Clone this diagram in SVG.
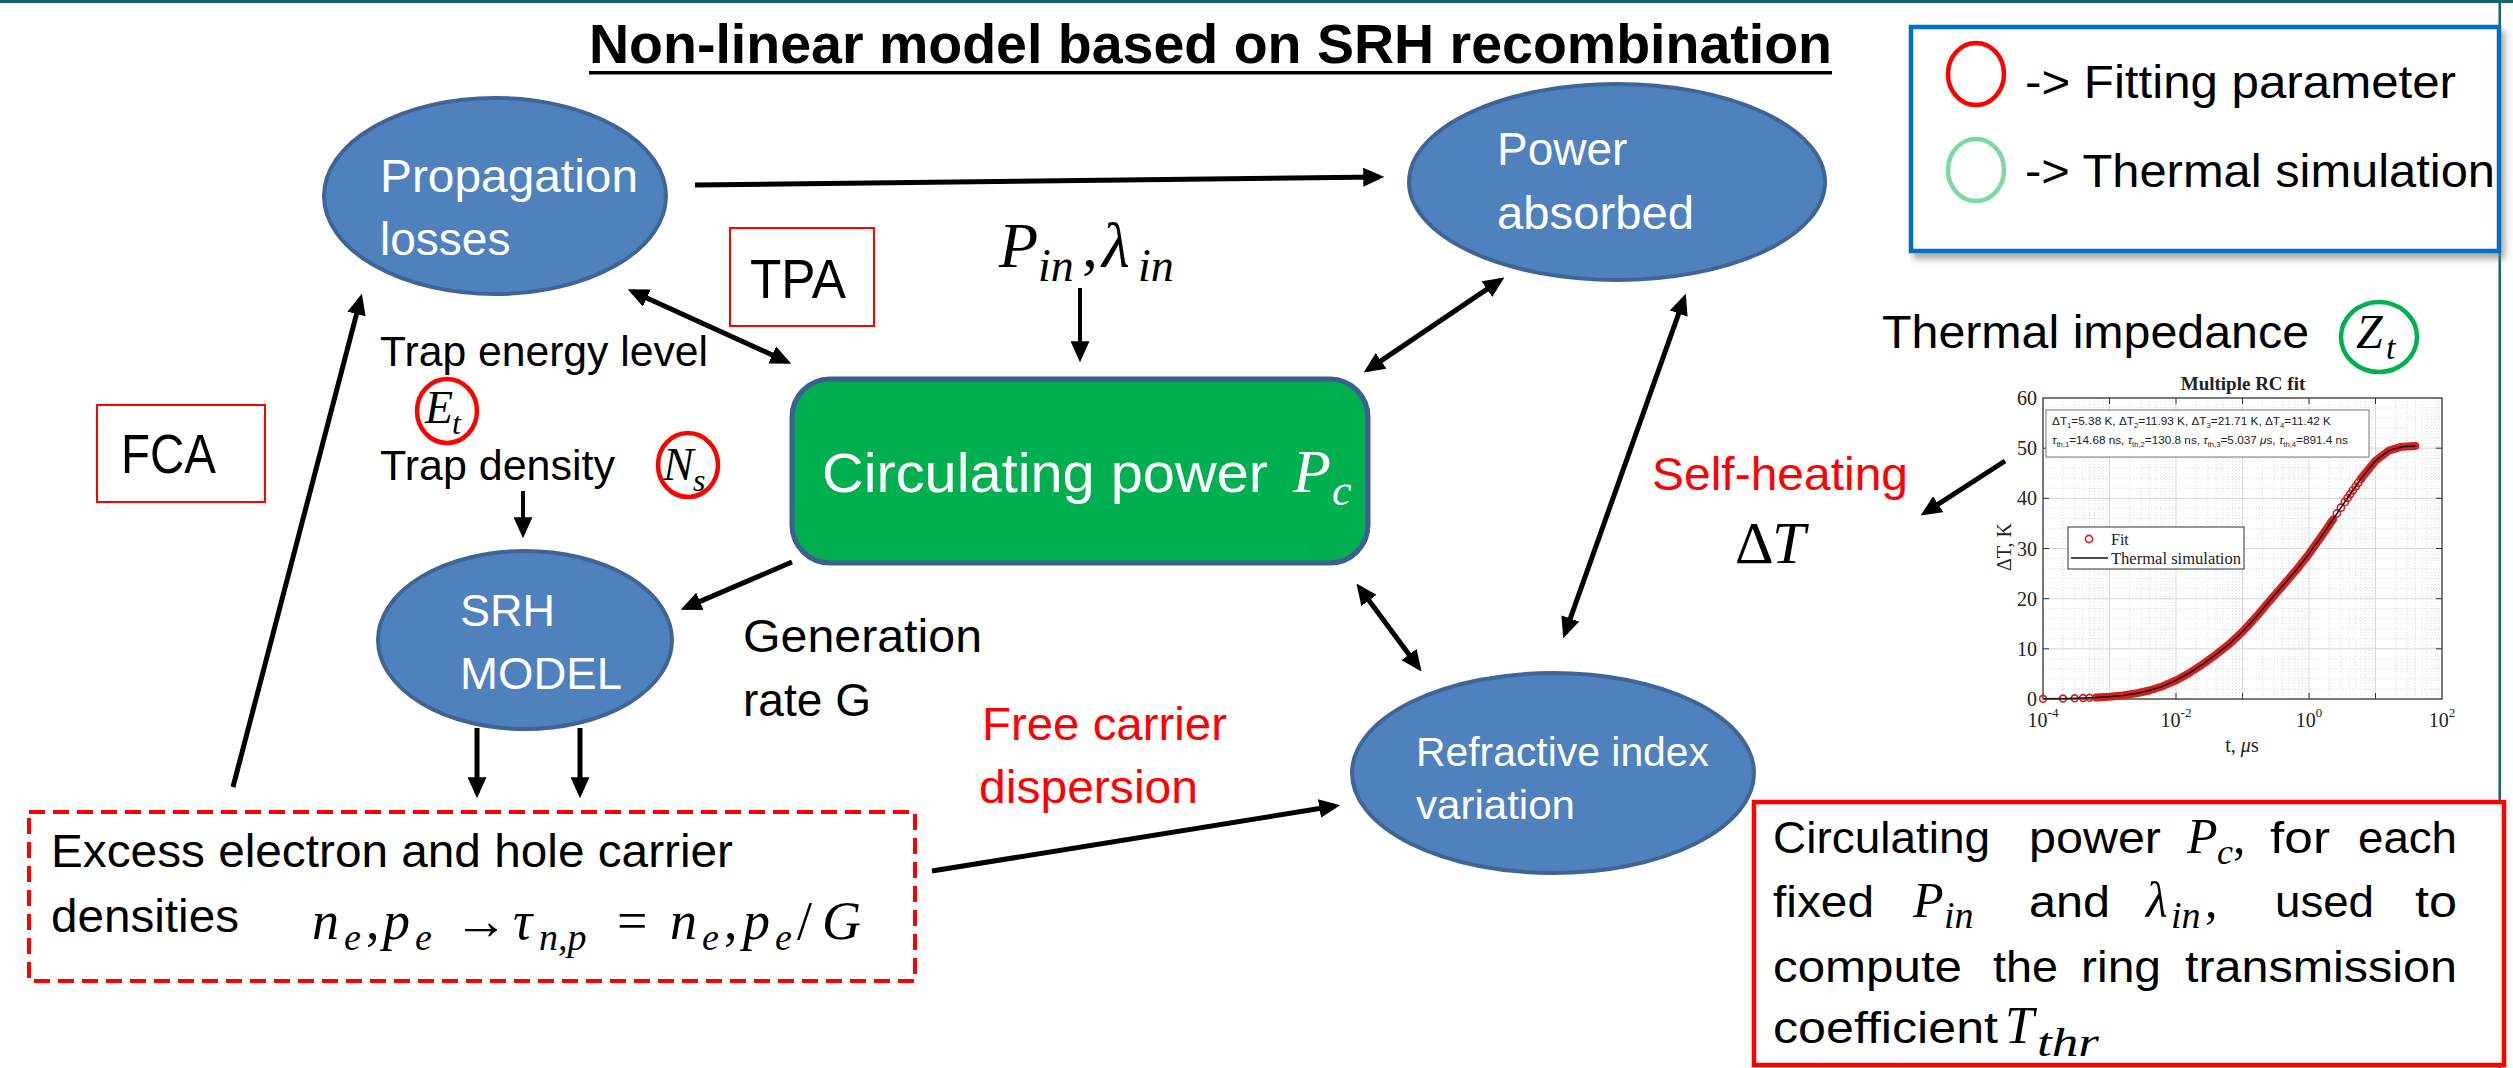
<svg xmlns="http://www.w3.org/2000/svg" width="2513" height="1068" viewBox="0 0 2513 1068">
<defs>
<style>
.sans{font-family:"Liberation Sans",Arial,sans-serif}
.mi{font-family:"Liberation Serif","DejaVu Serif",serif;font-style:italic}
.ms{font-family:"Liberation Serif","DejaVu Serif",serif}
.w{fill:#fff}
.k{fill:#000}
.red{fill:#ff0000}
.node{fill:#4f81bd;stroke:#3e6595;stroke-width:4}
.conn{stroke:#000;stroke-width:5;fill:none}
.thin{stroke-width:4}
.fp{fill:none;stroke:#ff0000;stroke-width:4.5}
.chart text{font-family:"Liberation Serif","DejaVu Serif",serif;fill:#222}
.mk{fill:none;stroke:#d42020;stroke-width:1.6}
</style>
<marker id="arr" viewBox="0 0 20 18" refX="15" refY="9" markerWidth="21" markerHeight="19" markerUnits="userSpaceOnUse" orient="auto-start-reverse">
<path d="M0,0 L20,9 L0,18 z" fill="#000"/>
</marker>
<filter id="shadow" x="-5%" y="-5%" width="115%" height="120%">
<feDropShadow dx="4" dy="6" stdDeviation="3" flood-color="#777" flood-opacity="0.6"/>
</filter>
</defs>
<rect x="0" y="0" width="2513" height="1068" fill="#fff"/>
<!-- slide border lines -->
<rect x="0" y="0" width="2513" height="3" fill="#16636f"/>
<rect x="2498.5" y="0" width="2.5" height="1068" fill="#16636f"/>

<!-- title -->
<g id="title">
<text class="sans" x="589" y="63" font-size="55" font-weight="bold" textLength="1243" lengthAdjust="spacingAndGlyphs">Non-linear model based on SRH recombination</text>
<rect x="589" y="71" width="1243" height="3.5" fill="#000"/>
</g>

<!-- legend -->
<g id="legend">
<rect x="1911" y="27" width="588" height="224" fill="#fff" stroke="#0070c0" stroke-width="4.5" filter="url(#shadow)"/>
<ellipse cx="1976" cy="74" rx="28" ry="31" fill="none" stroke="#ff0000" stroke-width="4.5"/>
<text class="sans k" x="2025" y="98" font-size="46" textLength="431" lengthAdjust="spacingAndGlyphs">-&gt; Fitting parameter</text>
<ellipse cx="1976" cy="170" rx="28" ry="31" fill="none" stroke="#7fd8a4" stroke-width="4.5"/>
<text class="sans k" x="2025" y="187" font-size="46" textLength="470" lengthAdjust="spacingAndGlyphs">-&gt; Thermal simulation</text>
</g>

<!-- nodes -->
<g id="propagation-losses">
<ellipse class="node" cx="495" cy="196" rx="171" ry="98"/>
<text class="sans w" x="380" y="192" font-size="46" textLength="258" lengthAdjust="spacingAndGlyphs">Propagation</text>
<text class="sans w" x="380" y="255" font-size="46">losses</text>
</g>

<g id="power-absorbed">
<ellipse class="node" cx="1617" cy="182" rx="208" ry="98"/>
<text class="sans w" x="1497" y="165" font-size="46">Power</text>
<text class="sans w" x="1497" y="229" font-size="46" textLength="197" lengthAdjust="spacingAndGlyphs">absorbed</text>
</g>

<g id="tpa">
<rect x="730" y="228" width="144" height="98" fill="#fff" stroke="#ff0000" stroke-width="2"/>
<text class="sans k" x="750" y="298" font-size="56" textLength="96" lengthAdjust="spacingAndGlyphs">TPA</text>
</g>

<g id="fca">
<rect x="97" y="405" width="168" height="97" fill="#fff" stroke="#ff0000" stroke-width="2"/>
<text class="sans k" x="121" y="473" font-size="56" textLength="95" lengthAdjust="spacingAndGlyphs">FCA</text>
</g>

<g id="input">
<text class="mi k" font-size="64"><tspan x="999" y="267">P</tspan><tspan x="1038" y="281" font-size="46">in</tspan><tspan x="1082" y="267" font-style="normal">,</tspan><tspan x="1102" y="267">λ</tspan><tspan x="1138" y="281" font-size="46">in</tspan></text>
</g>

<g id="circulating-power">
<rect x="792" y="379" width="576" height="184" rx="38" ry="38" fill="#00b050" stroke="#3b5f8f" stroke-width="5"/>
<text class="sans w" x="822" y="492" font-size="56" textLength="446" lengthAdjust="spacingAndGlyphs">Circulating power</text>
<text class="mi w" font-size="62"><tspan x="1293" y="492">P</tspan><tspan x="1332" y="505" font-size="44">c</tspan></text>
</g>

<g id="trap-params">
<text class="sans k" x="380" y="366" font-size="42" textLength="328" lengthAdjust="spacingAndGlyphs">Trap energy level</text>
<ellipse cx="447" cy="411" rx="30" ry="32" class="fp"/>
<text class="mi k" font-size="46"><tspan x="425" y="423">E</tspan><tspan x="452" y="434" font-size="32">t</tspan></text>
<text class="sans k" x="380" y="480" font-size="42" textLength="235" lengthAdjust="spacingAndGlyphs">Trap density</text>
<ellipse cx="688" cy="465" rx="30" ry="32" class="fp"/>
<text class="mi k" font-size="46"><tspan x="663" y="480">N</tspan><tspan x="693" y="491" font-size="32">s</tspan></text>
</g>

<g id="srh-model">
<ellipse class="node" cx="525" cy="640" rx="147" ry="89"/>
<text class="sans w" x="460" y="626" font-size="45">SRH</text>
<text class="sans w" x="460" y="689" font-size="45" textLength="162" lengthAdjust="spacingAndGlyphs">MODEL</text>
</g>

<g id="generation-label">
<text class="sans k" x="743" y="652" font-size="47" textLength="239" lengthAdjust="spacingAndGlyphs">Generation</text>
<text class="sans k" x="743" y="716" font-size="47" textLength="128" lengthAdjust="spacingAndGlyphs">rate G</text>
</g>

<g id="carrier-densities">
<rect x="29" y="812" width="886" height="169" fill="#fff" stroke="#ff0000" stroke-width="4" stroke-dasharray="16 8"/>
<text class="sans k" x="51" y="867" font-size="46" textLength="682" lengthAdjust="spacingAndGlyphs">Excess electron and hole carrier</text>
<text class="sans k" x="51" y="932" font-size="46" textLength="188" lengthAdjust="spacingAndGlyphs">densities</text>
<text class="mi k" font-size="54"><tspan x="312" y="939">n</tspan><tspan x="344" y="950" font-size="38">e</tspan><tspan x="366" y="939" font-style="normal">,</tspan><tspan x="383" y="939">p</tspan><tspan x="415" y="950" font-size="38">e</tspan><tspan x="454" y="939" font-style="normal">→</tspan><tspan x="513" y="939">τ</tspan><tspan x="539" y="950" font-size="38">n,p</tspan><tspan x="617" y="939" font-style="normal">=</tspan><tspan x="670" y="939">n</tspan><tspan x="702" y="950" font-size="38">e</tspan><tspan x="724" y="939" font-style="normal">,</tspan><tspan x="743" y="939">p</tspan><tspan x="775" y="950" font-size="38">e</tspan><tspan x="797" y="939" font-style="normal">/</tspan><tspan x="822" y="939">G</tspan></text>
</g>

<g id="free-carrier-label">
<text class="sans red" x="982" y="740" font-size="47" textLength="245" lengthAdjust="spacingAndGlyphs">Free carrier</text>
<text class="sans red" x="979" y="803" font-size="47" textLength="219" lengthAdjust="spacingAndGlyphs">dispersion</text>
</g>

<g id="refractive-index">
<ellipse class="node" cx="1553" cy="773" rx="201" ry="100"/>
<text class="sans w" x="1416" y="766" font-size="41" textLength="293" lengthAdjust="spacingAndGlyphs">Refractive index</text>
<text class="sans w" x="1416" y="819" font-size="41" textLength="159" lengthAdjust="spacingAndGlyphs">variation</text>
</g>

<g id="self-heating">
<text class="sans red" x="1652" y="490" font-size="47" textLength="256" lengthAdjust="spacingAndGlyphs">Self-heating</text>
<text class="ms k" font-size="60"><tspan x="1735" y="563">Δ</tspan><tspan x="1772" y="563" font-style="italic">T</tspan></text>
</g>

<g id="thermal-impedance">
<text class="sans k" x="1882" y="348" font-size="47" textLength="427" lengthAdjust="spacingAndGlyphs">Thermal impedance</text>
<ellipse cx="2379" cy="337" rx="38" ry="35" fill="none" stroke="#00b050" stroke-width="4.5"/>
<text class="mi k" font-size="48"><tspan x="2356" y="348">Z</tspan><tspan x="2386" y="359" font-size="34">t</tspan></text>
</g>

<g id="chart" class="chart">
<text x="2243" y="390" font-size="19" font-weight="bold" text-anchor="middle">Multiple RC fit</text>
<rect x="2043" y="398" width="399" height="301" fill="#fff"/>
<path d="M2063 398V699M2074.7 398V699M2083 398V699M2089.5 398V699M2094.7 398V699M2099.2 398V699M2103 398V699M2106.4 398V699M2129.5 398V699M2141.2 398V699M2149.5 398V699M2156 398V699M2161.2 398V699M2165.7 398V699M2169.5 398V699M2172.9 398V699M2196 398V699M2207.7 398V699M2216 398V699M2222.5 398V699M2227.7 398V699M2232.2 398V699M2236 398V699M2239.4 398V699M2262.5 398V699M2274.2 398V699M2282.5 398V699M2289 398V699M2294.2 398V699M2298.7 398V699M2302.5 398V699M2305.9 398V699M2329 398V699M2340.7 398V699M2349 398V699M2355.5 398V699M2360.7 398V699M2365.2 398V699M2369 398V699M2372.4 398V699M2395.5 398V699M2407.2 398V699M2415.5 398V699M2422 398V699M2427.2 398V699M2431.7 398V699M2435.5 398V699M2438.9 398V699M2043 689H2442M2043 678.9H2442M2043 668.9H2442M2043 658.9H2442M2043 638.8H2442M2043 628.8H2442M2043 618.7H2442M2043 608.7H2442M2043 588.6H2442M2043 578.6H2442M2043 568.6H2442M2043 558.5H2442M2043 538.5H2442M2043 528.4H2442M2043 518.4H2442M2043 508.4H2442M2043 488.3H2442M2043 478.3H2442M2043 468.2H2442M2043 458.2H2442M2043 438.1H2442M2043 428.1H2442M2043 418H2442M2043 408H2442" stroke="#cfcfcf" stroke-width="0.8" stroke-dasharray="1 2" fill="none"/>
<path d="M2109.5 398V699M2176 398V699M2242.5 398V699M2309 398V699M2375.5 398V699M2043 448.2H2442M2043 498.3H2442M2043 548.5H2442M2043 598.7H2442M2043 648.8H2442" stroke="#d8d8d8" stroke-width="1" fill="none"/>
<path d="M2043 448.2h6M2043 498.3h6M2043 548.5h6M2043 598.7h6M2043 648.8h6M2442 448.2h-6M2442 498.3h-6M2442 548.5h-6M2442 598.7h-6M2442 648.8h-6M2109.5 699v-6M2176 699v-6M2242.5 699v-6M2309 699v-6M2375.5 699v-6M2109.5 398v6M2176 398v6M2242.5 398v6M2309 398v6M2375.5 398v6" stroke="#333" stroke-width="1" fill="none"/>
<rect x="2043" y="398" width="399" height="301" fill="none" stroke="#333" stroke-width="1.3"/>
<g font-size="20" text-anchor="end">
<text x="2037" y="405">60</text>
<text x="2037" y="455">50</text>
<text x="2037" y="505">40</text>
<text x="2037" y="556">30</text>
<text x="2037" y="606">20</text>
<text x="2037" y="656">10</text>
<text x="2037" y="706">0</text>
</g>
<g font-size="20" text-anchor="middle">
<text x="2043" y="727">10<tspan font-size="13" dy="-10">-4</tspan></text>
<text x="2176" y="727">10<tspan font-size="13" dy="-10">-2</tspan></text>
<text x="2309" y="727">10<tspan font-size="13" dy="-10">0</tspan></text>
<text x="2442" y="727">10<tspan font-size="13" dy="-10">2</tspan></text>
</g>
<text x="2242" y="752" font-size="20" text-anchor="middle">t, <tspan font-style="italic">μ</tspan>s</text>
<text x="2004" y="554" font-size="20" text-anchor="middle" transform="rotate(-90 2004 547)">ΔT, K</text>
<rect x="2046" y="410" width="323" height="47" fill="#fff" stroke="#777" stroke-width="1"/>
<text x="2052" y="425" font-size="11.5" style="font-family:'Liberation Sans',Arial,sans-serif" textLength="279" lengthAdjust="spacingAndGlyphs">ΔT<tspan font-size="7.5" dy="3">1</tspan><tspan dy="-3">=5.38 K, ΔT</tspan><tspan font-size="7.5" dy="3">2</tspan><tspan dy="-3">=11.93 K, ΔT</tspan><tspan font-size="7.5" dy="3">3</tspan><tspan dy="-3">=21.71 K, ΔT</tspan><tspan font-size="7.5" dy="3">4</tspan><tspan dy="-3">=11.42 K</tspan></text>
<text x="2052" y="444" font-size="11.5" style="font-family:'Liberation Sans',Arial,sans-serif" textLength="296" lengthAdjust="spacingAndGlyphs"><tspan font-style="italic">τ</tspan><tspan font-size="7.5" dy="3">th,1</tspan><tspan dy="-3">=14.68 ns, </tspan><tspan font-style="italic">τ</tspan><tspan font-size="7.5" dy="3">th,2</tspan><tspan dy="-3">=130.8 ns, </tspan><tspan font-style="italic">τ</tspan><tspan font-size="7.5" dy="3">th,3</tspan><tspan dy="-3">=5.037 </tspan><tspan font-style="italic">μ</tspan><tspan>s, </tspan><tspan font-style="italic">τ</tspan><tspan font-size="7.5" dy="3">th,4</tspan><tspan dy="-3">=891.4 ns</tspan></text>
<!-- fit markers -->
<path d="M2096.2 697.5L2109.5 696.7L2122.8 695.4L2136.1 693.4L2149.4 690.5L2162.7 686.2L2176 680.4L2189.3 673L2202.6 664.3L2215.9 654.7L2229.2 644.2L2242.5 631.8L2255.8 617.3L2269.1 601.6L2282.4 586.1L2295.7 570.7L2309 553.9L2322.3 535.1L2333 519.4" fill="none" stroke="#d42020" stroke-width="8" stroke-linejoin="round" stroke-linecap="round"/>
<path d="M2362.2 477.1L2375.5 460.9L2388.8 450.6L2402.1 446.7L2415.4 446" fill="none" stroke="#d42020" stroke-width="8" stroke-linejoin="round" stroke-linecap="round"/>
<circle class="mk" cx="2043" cy="698.8" r="3.4"/>
<circle class="mk" cx="2063" cy="698.5" r="3.4"/>
<circle class="mk" cx="2074.7" cy="698.3" r="3.4"/>
<circle class="mk" cx="2083" cy="698" r="3.4"/>
<circle class="mk" cx="2089.5" cy="697.8" r="3.4"/>
<circle class="mk" cx="2336.9" cy="513.5" r="3.6"/>
<circle class="mk" cx="2340.9" cy="507.7" r="3.6"/>
<circle class="mk" cx="2344.9" cy="501.9" r="3.6"/>
<circle class="mk" cx="2347.6" cy="497.9" r="3.6"/>
<circle class="mk" cx="2350.2" cy="494.1" r="3.6"/>
<circle class="mk" cx="2352.9" cy="490.3" r="3.6"/>
<circle class="mk" cx="2355.6" cy="486.6" r="3.6"/>
<circle class="mk" cx="2358.2" cy="482.8" r="3.6"/>
<circle class="mk" cx="2360.9" cy="479" r="3.6"/>
<!-- simulation line -->
<path d="M2043 698.8L2069.6 698.4L2096.2 697.5L2109.5 696.7L2122.8 695.4L2136.1 693.4L2149.4 690.5L2162.7 686.2L2176 680.4L2189.3 673L2202.6 664.3L2215.9 654.7L2229.2 644.2L2242.5 631.8L2255.8 617.3L2269.1 601.6L2282.4 586.1L2295.7 570.7L2309 553.9L2322.3 535.1L2335.6 515.5L2348.9 496L2362.2 477.1L2375.5 460.9L2388.8 450.6L2402.1 446.7L2415.4 446" fill="none" stroke="#111" stroke-width="1.5"/>
<!-- legend -->
<rect x="2068" y="527" width="176" height="42" fill="#fff" stroke="#333" stroke-width="1"/>
<circle class="mk" cx="2089" cy="539" r="3.6"/>
<text x="2111" y="545" font-size="16">Fit</text>
<path d="M2071 558H2108" stroke="#111" stroke-width="1.5"/>
<text x="2111" y="564" font-size="16" textLength="130" lengthAdjust="spacingAndGlyphs">Thermal simulation</text>
</g>

<g id="result-box">
<rect x="1754" y="802" width="750" height="263" fill="#fff" stroke="#ff0000" stroke-width="4.5"/>
<g class="sans k" font-size="45">
<text x="1773" y="853" textLength="217" lengthAdjust="spacingAndGlyphs">Circulating</text>
<text x="2029" y="853" textLength="132" lengthAdjust="spacingAndGlyphs">power</text>
<text x="2270" y="853" textLength="60" lengthAdjust="spacingAndGlyphs">for</text>
<text x="2358" y="853" textLength="99" lengthAdjust="spacingAndGlyphs">each</text>
<text x="1773" y="917" textLength="101" lengthAdjust="spacingAndGlyphs">fixed</text>
<text x="2029" y="917" textLength="81" lengthAdjust="spacingAndGlyphs">and</text>
<text x="2275" y="917" textLength="99" lengthAdjust="spacingAndGlyphs">used</text>
<text x="2415" y="917" textLength="42" lengthAdjust="spacingAndGlyphs">to</text>
<text x="1773" y="982" textLength="189" lengthAdjust="spacingAndGlyphs">compute</text>
<text x="1993" y="982" textLength="65" lengthAdjust="spacingAndGlyphs">the</text>
<text x="2081" y="982" textLength="80" lengthAdjust="spacingAndGlyphs">ring</text>
<text x="2185" y="982" textLength="272" lengthAdjust="spacingAndGlyphs">transmission</text>
<text x="1773" y="1043" textLength="225" lengthAdjust="spacingAndGlyphs">coefficient</text>
</g>
<text class="mi k" font-size="50"><tspan x="2187" y="853">P</tspan><tspan x="2217" y="864" font-size="36">c</tspan><tspan x="2233" y="853" font-style="normal">,</tspan></text>
<text class="mi k" font-size="50"><tspan x="1913" y="917">P</tspan><tspan x="1944" y="928" font-size="38">in</tspan></text>
<text class="mi k" font-size="50"><tspan x="2146" y="917">λ</tspan><tspan x="2171" y="928" font-size="38">in</tspan><tspan x="2205" y="917" font-style="normal">,</tspan></text>
<text class="mi k" font-size="52"><tspan x="2005" y="1043">T</tspan><tspan x="2037" y="1056" font-size="40" textLength="62" lengthAdjust="spacingAndGlyphs">thr</tspan></text>
</g>

<!-- connectors -->
<g id="connectors">
<path class="conn" d="M695 185L1379 177" marker-end="url(#arr)"/>
<path class="conn" d="M632.5 291.5L786.5 361.5" marker-start="url(#arr)" marker-end="url(#arr)"/>
<path class="conn thin" d="M1080 288L1080 357" marker-end="url(#arr)"/>
<path class="conn" d="M1368 369.6L1500 280.4" marker-start="url(#arr)" marker-end="url(#arr)"/>
<path class="conn" d="M1565 633.3L1684 298.7" marker-start="url(#arr)" marker-end="url(#arr)"/>
<path class="conn" d="M792 562L685.5 607.6" marker-end="url(#arr)"/>
<path class="conn" d="M1359.6 587.8L1418.4 667.2" marker-start="url(#arr)" marker-end="url(#arr)"/>
<path class="conn thin" d="M523 491L523 533" marker-end="url(#arr)"/>
<path class="conn" d="M477 728L477 793" marker-end="url(#arr)"/>
<path class="conn" d="M580 728L580 793" marker-end="url(#arr)"/>
<path class="conn" d="M932 871L1335 806" marker-end="url(#arr)"/>
<path class="conn" d="M233 787L360.5 298.8" marker-end="url(#arr)"/>
<path class="conn" d="M2005 461L1925 512.7" marker-end="url(#arr)"/>
</g>
</svg>
